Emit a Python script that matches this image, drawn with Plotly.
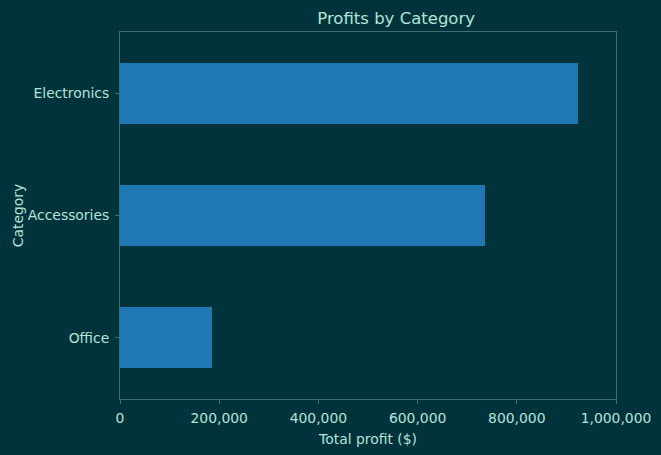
import plotly.graph_objects as go

categories = ["Office", "Accessories", "Electronics"]
profits = [185000, 736000, 923000]
x_tick_vals = [0, 200000, 400000, 600000, 800000, 1000000]
x_tick_text = ["0", "200,000", "400,000", "600,000", "800,000", "1,000,000"]

bg = "#01333d"
txt = "#b4e4d6"
spine = "#3e6e6e"

fig = go.Figure(go.Bar(
    x=profits, y=categories, orientation="h",
    marker=dict(color="#1f77b4", line=dict(width=0)),
    width=0.5,
))

fig.update_layout(
    width=661, height=455,
    paper_bgcolor=bg, plot_bgcolor=bg,
    margin=dict(l=120, r=45, t=32, b=56),
    font=dict(family="DejaVu Sans", size=13.9, color=txt),
    title=dict(text="Profits by Category", x=(120 + 616) / 2 / 661, xref="paper", y=0.96, yref="container",
               xanchor="center", yanchor="middle", font=dict(size=16.5, color=txt)),
    showlegend=False,
    bargap=0,
)
fig.update_xaxes(
    range=[0, 1000000], tickvals=x_tick_vals, ticktext=x_tick_text, automargin=False,
    showgrid=False, zeroline=False, showline=True, linecolor=spine, linewidth=1, mirror=True,
    ticks="outside", ticklen=4, tickcolor=spine, ticklabelstandoff=2,
    title=dict(text="Total profit ($)", font=dict(size=13.9, color=txt), standoff=9),
    tickfont=dict(size=13.9, color=txt),
)
fig.update_yaxes(
    type="category", categoryorder="array", categoryarray=categories,
    range=[-0.5, 2.5], automargin=False,
    showgrid=False, zeroline=False, showline=True, linecolor=spine, linewidth=1, mirror=True,
    ticks="outside", ticklen=4, tickcolor=spine, ticklabelstandoff=3,
    title=dict(text="Category", font=dict(size=13.9, color=txt), standoff=0),
    tickfont=dict(size=13.9, color=txt),
)

fig.write_html("out.html")
